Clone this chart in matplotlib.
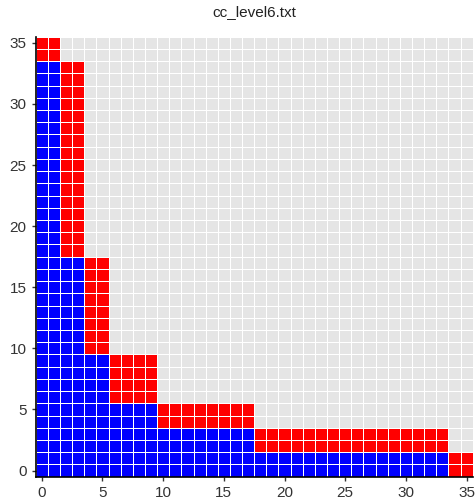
import matplotlib
matplotlib.use('Agg')
import matplotlib.pyplot as plt
from matplotlib.colors import ListedColormap
import numpy as np

# column groups of the staircase: start column, end column, blue rows, red rows on top
col_start = [0, 2, 4, 6, 10, 18, 34]
col_end = [2, 4, 6, 10, 18, 34, 36]
blue_rows = [34, 18, 10, 6, 4, 2, 0]
red_rows = [2, 16, 8, 4, 2, 2, 2]
n = 36
ticks = [0, 5, 10, 15, 20, 25, 30, 35]

grid = np.zeros((n, n))
for c0, c1, b, r in zip(col_start, col_end, blue_rows, red_rows):
    grid[:b, c0:c1] = 1
    grid[b:b + r, c0:c1] = 2

cmap = ListedColormap(['#e5e5e5', '#0000ff', '#ff0000'])

plt.rcParams['font.family'] = ['Liberation Sans', 'DejaVu Sans']
fig = plt.figure(figsize=(4.76, 4.99), dpi=100)
ax = fig.add_axes([35.7 / 476, 1 - 476.7 / 499, 437 / 476, 440 / 499])
edges = np.arange(n + 1) - 0.5
ax.pcolormesh(edges, edges, grid, cmap=cmap, vmin=0, vmax=2,
              edgecolors='white', linewidth=0.65)
ax.set_xlim(-0.5, n - 0.5)
ax.set_ylim(-0.5, n - 0.5)
ax.set_xticks(ticks)
ax.set_yticks(ticks)
ax.tick_params(labelsize=11, labelcolor='#333333', length=3, width=1, color='#333333')
for s in ['top', 'right']:
    ax.spines[s].set_visible(False)
for s in ['left', 'bottom']:
    ax.spines[s].set_color('black')
    ax.spines[s].set_linewidth(1.2)
ax.set_title('cc_level6.txt', fontsize=11, pad=15, color='#222222')
fig.savefig('out.png', dpi=100)
